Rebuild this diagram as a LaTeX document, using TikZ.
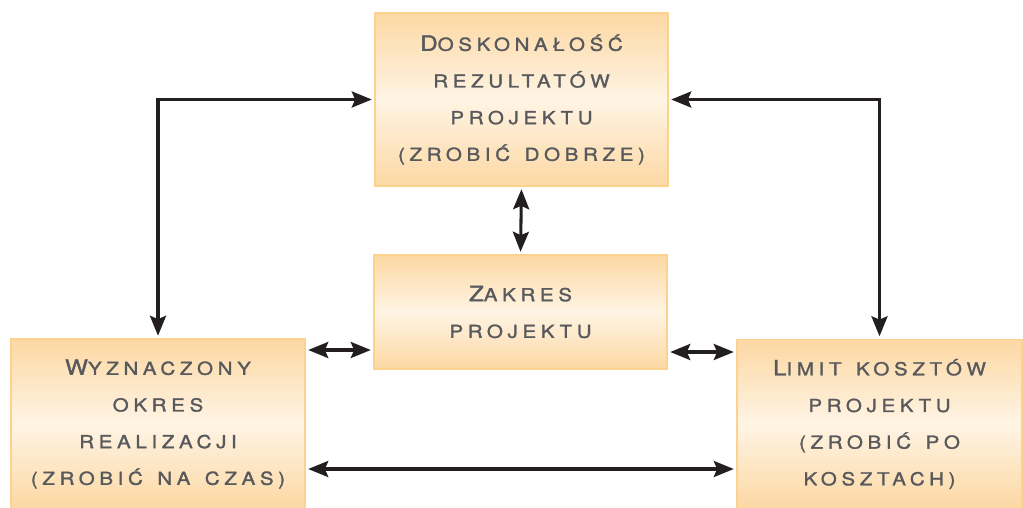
\documentclass[tikz,border=0pt]{standalone}
\usepackage{fontspec}
\setmainfont{TeX Gyre Heros}
\newfontfamily\boxfont{TeX Gyre Heros}[LetterSpace=26,WordSpace=1.4,FakeStretch=1.15,FakeBold=1.5]
\newcommand\ini[1]{{\fontsize{15.8pt}{27pt}\selectfont #1}}
\usetikzlibrary{arrows.meta}
\definecolor{boxedge}{HTML}{FBD38F}
\definecolor{boxout}{HTML}{FCD8A3}
\definecolor{boxin}{HTML}{FFF4E4}
\definecolor{txtgray}{HTML}{58595C}
\definecolor{arrblack}{HTML}{231F20}
\tikzset{
  box/.style={draw=boxedge, line width=0.8pt, top color=boxout, bottom color=boxout, middle color=boxin,
    align=center, text=txtgray, inner sep=0pt,
    font=\boxfont\fontsize{13.4pt}{27.5pt}\selectfont},
  dbl/.style={arrblack, line width=2.3pt, {Stealth[length=15pt,width=12pt,inset=2.5pt]}-{Stealth[length=15pt,width=12pt,inset=2.5pt]}, shorten <=2pt, shorten >=2pt}
}
\begin{document}
\begin{tikzpicture}[x=0.75pt,y=-0.75pt]
\useasboundingbox (0,0) rectangle (1023,507);
\node[box, minimum width=293*0.75pt, minimum height=173*0.75pt] (top) at (521.5,99.5)
  {\ini{D}OSKONAŁOŚĆ\\REZULTATÓW\\PROJEKTU\\(ZROBIĆ DOBRZE)};
\node[box, minimum width=293*0.75pt, minimum height=114*0.75pt] (mid) at (520.5,312)
  {\ini{Z}AKRES\\PROJEKTU};
\node[box, minimum width=294*0.75pt, minimum height=170*0.75pt] (left) at (158,424)
  {\ini{W}YZNACZONY\\OKRES\\REALIZACJI\\(ZROBIĆ NA CZAS)};
\node[box, minimum width=285*0.75pt, minimum height=169*0.75pt] (right) at (879.5,424)
  {\ini{L}IMIT KOSZTÓW\\PROJEKTU\\(ZROBIĆ PO\\KOSZTACH)};
\draw[dbl] (top.west) -| (left.north);
\draw[dbl] (top.east) -| (right.north);
\draw[dbl] (top.south) -- (mid.north);
\draw[dbl] (mid.west |- 0,350) -- (left.east |- 0,350);
\draw[dbl] (mid.east |- 0,352) -- (right.west |- 0,352);
\draw[dbl] (left.east |- 0,469) -- (right.west |- 0,469);
\end{tikzpicture}
\end{document}
